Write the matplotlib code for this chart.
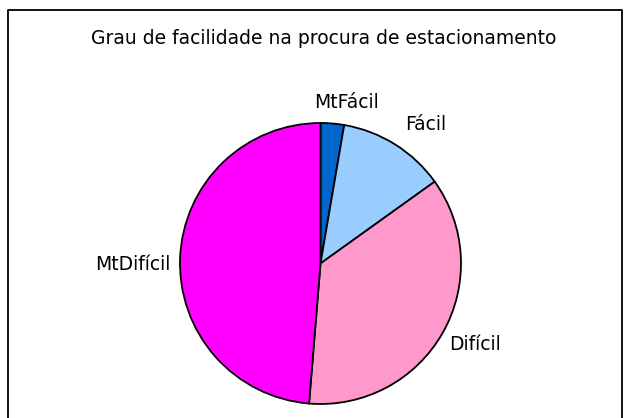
import matplotlib.pyplot as plt

# data
categories = ['MtFácil', 'Fácil', 'Difícil', 'MtDifícil']
values = [2.7, 12.4, 36.2, 48.7]
colors = ['#0066CC', '#99CCFF', '#FF99CC', '#FF00FF']

# label positions in pixel coords (x from left, y from top)
label_pos = [(346, 103), (426, 125), (475, 344), (133, 265)]

W, H = 630, 418
fig = plt.figure(figsize=(W / 100, H / 100), dpi=100)
ax = fig.add_axes([0, 0, 1, 1])

# chart frame (bottom edge is cut off in the original)
ax.plot([8, 8, 622, 622], [-5, H - 10, H - 10, -5], color='black', lw=1.3)

ax.pie(values, colors=colors, startangle=90, counterclock=False,
       center=(320.5, H - 263.5), radius=140.5, frame=True,
       wedgeprops=dict(edgecolor='black', linewidth=1.3))
ax.set_xlim(0, W)
ax.set_ylim(0, H)
ax.axis('off')

for name, (x, y) in zip(categories, label_pos):
    ax.text(x, H - y, name, ha='center', va='center', fontsize=13.5,
            family='DejaVu Sans', color='black')

ax.text(324, H - 38, 'Grau de facilidade na procura de estacionamento',
        ha='center', va='center', fontsize=13.5, family='DejaVu Sans')

fig.savefig('out.png', dpi=100)
